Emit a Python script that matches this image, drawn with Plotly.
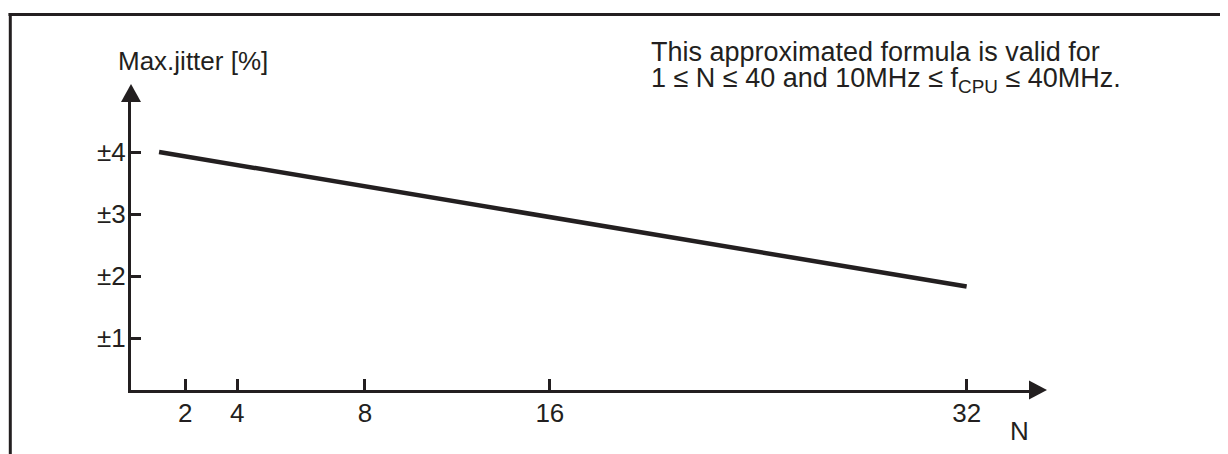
import plotly.graph_objects as go

# ---- data ----
n_values = [1, 32]            # N at the ends of the drawn line
jitter_values = [4.0, 1.83]   # max jitter [%] at those N
y_tick_vals = [1, 2, 3, 4]
y_tick_text = ["±1", "±2", "±3", "±4"]
x_tick_vals = [2, 4, 8.9, 16, 32]   # schematic tick placement as drawn
x_tick_text = ["2", "4", "8", "16", "32"]

INK = "#231f20"
FONT = "Liberation Sans, Arial, sans-serif"
FS = 26
FS_NOTE = 27

OFF = 8  # page body margin
W_FIG, H_FIG = 1228 - OFF, 454 - OFF
# plot-area box in page pixels
L, R_EDGE, T, B = 131, 1031, 100, 390
W, H = R_EDGE - L, B - T


def px(x):
    return (x - L) / W


def py(y):
    return (B - y) / H


fig = go.Figure()
fig.add_trace(go.Scatter(
    x=n_values, y=jitter_values, mode="lines",
    line=dict(color=INK, width=4.5), showlegend=False, hoverinfo="skip",
))

fig.update_layout(
    width=W_FIG, height=H_FIG,
    margin=dict(l=L - OFF, r=W_FIG - (R_EDGE - OFF), t=T - OFF,
                b=H_FIG - (B - OFF), pad=0),
    paper_bgcolor="white", plot_bgcolor="white",
    font=dict(family=FONT, size=FS, color=INK),
    xaxis=dict(
        range=[-0.077, 34.47], showgrid=False, zeroline=False,
        showline=True, linecolor=INK, linewidth=3,
        tickmode="array", tickvals=x_tick_vals, ticktext=x_tick_text,
        ticks="inside", ticklen=11, tickwidth=3, tickcolor=INK,
        ticklabelstandoff=-2,
        tickfont=dict(family=FONT, size=FS, color=INK),
    ),
    yaxis=dict(
        range=[0.1613, 4.839], showgrid=False, zeroline=False,
        showline=True, linecolor=INK, linewidth=3,
        tickmode="array", tickvals=y_tick_vals, ticktext=y_tick_text,
        ticks="inside", ticklen=10, tickwidth=3, tickcolor=INK,
        ticklabelstandoff=-3,
        tickfont=dict(family=FONT, size=FS, color=INK),
    ),
)

shapes = []
# y-axis arrowhead
shapes.append(dict(
    type="path", xref="paper", yref="paper",
    path=f"M {px(121)} {py(102)} L {px(131)} {py(84)} L {px(141)} {py(102)} Z",
    fillcolor=INK, line=dict(width=0),
))
# x-axis arrowhead
shapes.append(dict(
    type="path", xref="paper", yref="paper",
    path=f"M {px(1029)} {py(380.5)} L {px(1047)} {py(390)} L {px(1029)} {py(399.5)} Z",
    fillcolor=INK, line=dict(width=0),
))
# figure frame (top and left edges)
shapes.append(dict(
    type="line", xref="paper", yref="paper",
    x0=px(8.5), y0=py(14.5), x1=px(1232), y1=py(14.5),
    line=dict(color=INK, width=3),
))
shapes.append(dict(
    type="line", xref="paper", yref="paper",
    x0=px(10.3), y0=py(13), x1=px(10.3), y1=py(460),
    line=dict(color=INK, width=3),
))
fig.update_layout(shapes=shapes)

ann = [
    dict(text="Max.jitter [%]", x=px(116), y=py(61), xanchor="left",
         yanchor="middle", font=dict(family=FONT, size=FS, color=INK)),
    dict(text="This approximated formula is valid for", x=px(649), y=py(52),
         xanchor="left", yanchor="middle",
         font=dict(family=FONT, size=FS_NOTE, color=INK)),
    dict(text="1 ≤ N ≤ 40 and 10MHz ≤ f<sub>CPU</sub> ≤ 40MHz.", x=px(649), y=py(80),
         xanchor="left", yanchor="middle",
         font=dict(family=FONT, size=FS_NOTE, color=INK)),
    dict(text="N", x=px(1019), y=py(431), xanchor="center", yanchor="middle",
         font=dict(family=FONT, size=FS, color=INK)),
]
for a in ann:
    a.update(xref="paper", yref="paper", showarrow=False)
fig.update_layout(annotations=ann)

fig.write_html("out.html")
